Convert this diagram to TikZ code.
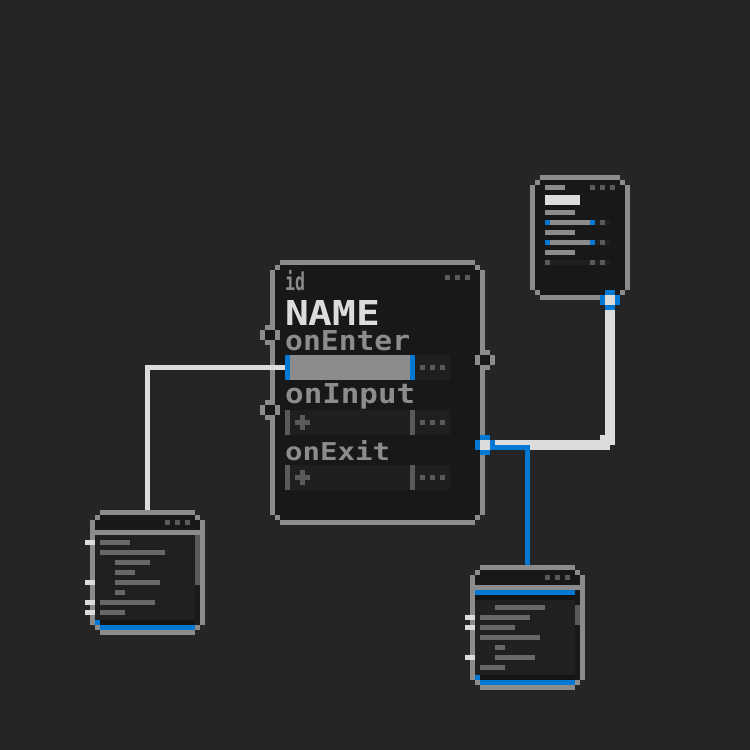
\documentclass[tikz,border=0pt]{standalone}
\usepackage{fontspec}
\usepackage{graphicx}
\newfontfamily\pixfont{DejaVu Sans Mono}
\definecolor{bgc}{HTML}{252525}
\definecolor{boxfill}{HTML}{181818}
\definecolor{borderc}{HTML}{8C8C8C}
\definecolor{lightc}{HTML}{DCDCDC}
\definecolor{bluec}{HTML}{0078D4}
\definecolor{dimc}{HTML}{5A5A5A}
\definecolor{fieldc}{HTML}{1F1F1F}
\definecolor{contentc}{HTML}{202020}
\definecolor{trackc}{HTML}{1A1A1A}
\definecolor{stripc}{HTML}{141414}
\definecolor{linec}{HTML}{686868}
% fill a block of cells (inclusive)
\newcommand\pxr[5]{\fill[#1] (#2,#3) rectangle ({#4+1},{#5+1});}
\newcommand\pxc[3]{\fill[#1] (#2,#3) rectangle ({#2+1},{#3+1});}
% 4x4 pixel ring port
\newcommand\pring[4]{%
  \pxr{#1}{#3+1}{#4}{#3+2}{#4}%
  \pxr{#1}{#3}{#4+1}{#3}{#4+2}%
  \pxr{#1}{#3+3}{#4+1}{#3+3}{#4+2}%
  \pxr{#1}{#3+1}{#4+3}{#3+2}{#4+3}%
  \pxr{#2}{#3+1}{#4+1}{#3+2}{#4+2}}
% pixel frame with cut corners
\newcommand\pframe[5]{% color, c1, r1, c2, r2 (outer extents)
  \pxr{#1}{#2+2}{#3}{#4-2}{#3}%
  \pxr{#1}{#2+2}{#5}{#4-2}{#5}%
  \pxr{#1}{#2}{#3+2}{#2}{#5-2}%
  \pxr{#1}{#4}{#3+2}{#4}{#5-2}%
  \pxc{#1}{#2+1}{#3+1}\pxc{#1}{#4-1}{#3+1}%
  \pxc{#1}{#2+1}{#5-1}\pxc{#1}{#4-1}{#5-1}}
\begin{document}
\begin{tikzpicture}[x=5pt,y=-5pt,
  txt/.style={inner sep=0pt, anchor=base west}]
\fill[bgc] (0,0) rectangle (150,150);
\useasboundingbox (0,0) rectangle (150,150);

% ---------------- main box ----------------
\pxr{boxfill}{55}{53}{95}{103}
\pframe{borderc}{54}{52}{96}{104}
\pxc{dimc}{89}{55}\pxc{dimc}{91}{55}\pxc{dimc}{93}{55}
\node[txt,text=borderc] (idtxt) at (57,58) {\resizebox{20pt}{20pt}{\pixfont\bfseries id}};
\node[txt,text=lightc] (nametxt) at (57,65) {\resizebox{95pt}{25pt}{\pixfont\bfseries NAME}};
\node[txt,text=borderc] (entertxt) at (57,70) {\resizebox{125pt}{20pt}{\pixfont\bfseries onEnter}};
\node[txt,text=borderc] (inputtxt) at (57,80.6) {\resizebox{130pt}{20pt}{\pixfont\bfseries onInput}};
\node[txt,text=borderc] (exittxt) at (57,92) {\resizebox{105pt}{20pt}{\pixfont\bfseries onExit}};
% field 1 (slider)
\pxr{fieldc}{83}{71}{89}{75}
\pxr{borderc}{58}{71}{81}{75}
\pxr{bluec}{57}{71}{57}{75}
\pxr{bluec}{82}{71}{82}{75}
\pxc{dimc}{84}{73}\pxc{dimc}{86}{73}\pxc{dimc}{88}{73}
% field 2
\pxr{fieldc}{57}{82}{89}{86}
\pxr{dimc}{57}{82}{57}{86}
\pxr{dimc}{82}{82}{82}{86}
\pxr{dimc}{59}{84}{61}{84}\pxr{dimc}{60}{83}{60}{85}
\pxc{dimc}{84}{84}\pxc{dimc}{86}{84}\pxc{dimc}{88}{84}
% field 3
\pxr{fieldc}{57}{93}{89}{97}
\pxr{dimc}{57}{93}{57}{97}
\pxr{dimc}{82}{93}{82}{97}
\pxr{dimc}{59}{95}{61}{95}\pxr{dimc}{60}{94}{60}{96}
\pxc{dimc}{84}{95}\pxc{dimc}{86}{95}\pxc{dimc}{88}{95}

% ---------------- top-right box ----------------
\pxr{boxfill}{107}{36}{124}{58}
\pframe{borderc}{106}{35}{125}{59}
\pxr{borderc}{109}{37}{112}{37}
\pxc{dimc}{118}{37}\pxc{dimc}{120}{37}\pxc{dimc}{122}{37}
\pxr{lightc}{109}{39}{115}{40}
\pxr{borderc}{109}{42}{114}{42}
\pxr{fieldc}{109}{44}{121}{44}
\pxc{bluec}{109}{44}\pxr{borderc}{110}{44}{117}{44}\pxc{bluec}{118}{44}\pxc{dimc}{120}{44}
\pxr{borderc}{109}{46}{114}{46}
\pxr{fieldc}{109}{48}{121}{48}
\pxc{bluec}{109}{48}\pxr{borderc}{110}{48}{117}{48}\pxc{bluec}{118}{48}\pxc{dimc}{120}{48}
\pxr{borderc}{109}{50}{114}{50}
\pxr{fieldc}{109}{52}{121}{52}
\pxc{dimc}{109}{52}\pxc{dimc}{118}{52}\pxc{dimc}{120}{52}

% ---------------- bottom-left box ----------------
\pxr{boxfill}{19}{103}{39}{125}
\pframe{borderc}{18}{102}{40}{126}
\pxr{borderc}{18}{106}{40}{106}
\pxc{dimc}{33}{104}\pxc{dimc}{35}{104}\pxc{dimc}{37}{104}
\pxr{contentc}{19}{107}{38}{123}
\pxr{trackc}{39}{107}{39}{124}
\pxr{dimc}{39}{107}{39}{116}
\pxr{stripc}{20}{124}{38}{124}
\pxc{bluec}{19}{124}
\pxr{bluec}{20}{125}{38}{125}
\pxr{linec}{20}{108}{25}{108}
\pxr{linec}{20}{110}{32}{110}
\pxr{linec}{23}{112}{29}{112}
\pxr{linec}{23}{114}{26}{114}
\pxr{linec}{23}{116}{31}{116}
\pxr{linec}{23}{118}{24}{118}
\pxr{linec}{20}{120}{30}{120}
\pxr{linec}{20}{122}{24}{122}
\pxr{lightc}{17}{108}{18}{108}
\pxr{lightc}{17}{116}{18}{116}
\pxr{lightc}{17}{120}{18}{120}
\pxr{lightc}{17}{122}{18}{122}

% ---------------- bottom-right box ----------------
\pxr{boxfill}{95}{114}{115}{136}
\pframe{borderc}{94}{113}{116}{137}
\pxr{borderc}{94}{117}{116}{117}
\pxc{dimc}{109}{115}\pxc{dimc}{111}{115}\pxc{dimc}{113}{115}
\pxr{bluec}{95}{118}{114}{118}
\pxr{stripc}{95}{119}{114}{119}
\pxr{contentc}{95}{120}{114}{134}
\pxr{trackc}{115}{118}{115}{135}
\pxr{dimc}{115}{121}{115}{124}
\pxr{stripc}{96}{135}{114}{135}
\pxc{bluec}{95}{135}
\pxr{bluec}{96}{136}{114}{136}
\pxr{linec}{99}{121}{108}{121}
\pxr{linec}{96}{123}{105}{123}
\pxr{linec}{96}{125}{102}{125}
\pxr{linec}{96}{127}{107}{127}
\pxr{linec}{99}{129}{100}{129}
\pxr{linec}{99}{131}{106}{131}
\pxr{linec}{96}{133}{100}{133}
\pxr{lightc}{93}{123}{94}{123}
\pxr{lightc}{93}{125}{94}{125}
\pxr{lightc}{93}{131}{94}{131}

% ---------------- ports ----------------
\pring{borderc}{boxfill}{52}{65}
\pring{borderc}{boxfill}{52}{80}
\pring{borderc}{boxfill}{95}{70}
\pring{bluec}{lightc}{95}{87}
\pring{bluec}{lightc}{120}{58}

% ---------------- connectors ----------------
\coordinate (enterout) at (57,73.5);
\coordinate (blin) at (29.5,102);
\draw[lightc, line width=5pt] (enterout) -| (blin);
\coordinate (mainport) at (99,89);
\coordinate (trport) at (122,62);
\draw[lightc, line width=10pt] (mainport) -| (trport);
\pxc{lightc}{120}{87}
\pxc{bgc}{122}{89}
\coordinate (mainportb) at (98,89.5);
\coordinate (brin) at (105.5,113);
\draw[bluec, line width=5pt] (mainportb) -| (brin);
\end{tikzpicture}
\end{document}
